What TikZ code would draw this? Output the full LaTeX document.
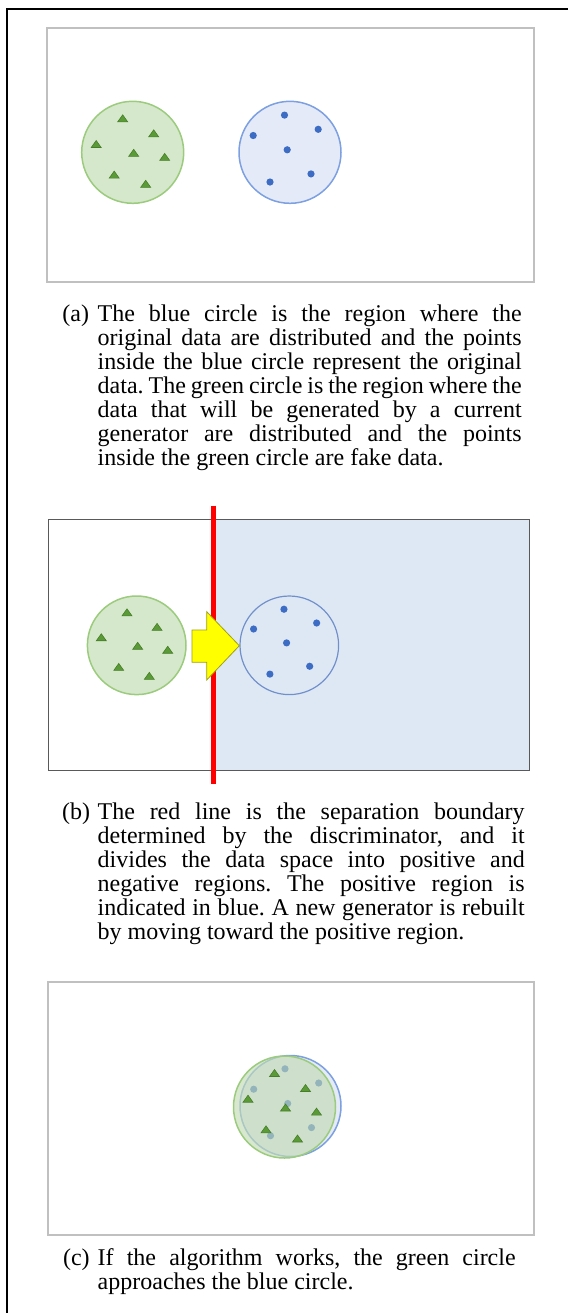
\documentclass[tikz,border=0pt]{standalone}
\usepackage{fontspec}
\setmainfont{Liberation Serif}
\usetikzlibrary{positioning}
\frenchspacing
\tolerance=10000

\definecolor{fakefill}{RGB}{214,232,203}
\definecolor{fakeline}{RGB}{155,203,125}
\definecolor{fakemark}{RGB}{90,155,55}
\definecolor{fakemarkline}{RGB}{70,125,40}
\definecolor{realfill}{RGB}{228,234,247}
\definecolor{realline}{RGB}{125,160,225}
\definecolor{realmark}{RGB}{60,108,196}
\definecolor{posfill}{RGB}{222,232,245}
\definecolor{boxgray}{RGB}{192,192,192}
\definecolor{pushfill}{RGB}{255,255,0}
\definecolor{pushline}{RGB}{160,160,20}

\def\fakepos{-10/-34, 21/-19, -36.5/-8.3, 1/0.5, 32/4.6, -18.5/22.3, 13/31.5}
\def\realpos{-5.5/-37.2, 28.2/-23, -36.8/-16.8, -2.8/-2.5, 21/21.6, -20/29.7}

\tikzset{
    panel/.style={draw=boxgray, line width=1pt},
    darkpanel/.style={draw=black!65, line width=0.6pt},
    gencircle/.style={circle, draw=fakeline, fill=fakefill, line width=0.75pt, minimum size=51pt, inner sep=0pt},
    realcircle/.style={circle, draw=realline, fill=realfill, line width=0.75pt, minimum size=51pt, inner sep=0pt},
    fakept/.pic={\filldraw[fill=fakemark, draw=fakemarkline, line width=0.3pt] (-5,3.5) -- (5,3.5) -- (0,-3.5) -- cycle;},
    realpt/.pic={\fill[realmark] (0,0) circle (3.6);},
    tag/.style={anchor=base west, inner sep=0pt, font=\fontsize{12pt}{12pt}\selectfont},
    caption/.style={anchor=base west, inner sep=0pt, text width=#1, align=justify, font=\fontsize{12pt}{12pt}\selectfont}
}

\begin{document}
\begin{tikzpicture}[x=0.5pt, y=-0.5pt]
    \useasboundingbox (0,0) rectangle (568,1313);
    \draw[line width=1pt] (7,1313) -- (7,9.3) -- (568,9.3);

    % (a)
    \draw[panel] (47,28) rectangle (534,282);
    \node[gencircle] (gen-a) at (132.7,152.3) {};
    \node[realcircle] (real-a) at (290,152.3) {};
    \begin{scope}[shift={(gen-a.center)}]
        \foreach \dx/\dy in \fakepos { \pic at (\dx,\dy) {fakept}; }
    \end{scope}
    \begin{scope}[shift={(real-a.center)}]
        \foreach \dx/\dy in \realpos { \pic at (\dx,\dy) {realpt}; }
    \end{scope}
    \node[tag] (tag-a) at (62,321) {(a)};
    \node[caption=212pt] (cap-a) at (97.3,321) {The blue circle is the region where the\linebreak
        original data are distributed and the points\linebreak
        inside the blue circle represent the original\linebreak
        data. The green circle is the region where the\linebreak
        data that will be generated by a current\linebreak
        generator are distributed and the points\linebreak
        inside the green circle are fake data.};

    % (b)
    \fill[posfill] (213,519.3) rectangle (529.7,770.7);
    \draw[darkpanel] (48.3,519.3) rectangle (529.7,770.7);
    \node[gencircle, minimum size=49.3pt] (gen-b) at (136.7,645.3) {};
    \node[realcircle, minimum size=49.3pt, fill=none, draw=realline!90!black, line width=0.6pt] (real-b) at (289.3,645.3) {};
    \begin{scope}[shift={(gen-b.center)}, scale=0.97]
        \foreach \dx/\dy in \fakepos { \pic at (\dx,\dy) {fakept}; }
    \end{scope}
    \begin{scope}[shift={(real-b.center)}, scale=0.97]
        \foreach \dx/\dy in \realpos { \pic at (\dx,\dy) {realpt}; }
    \end{scope}
    \coordinate (cut-top) at (213,505.7);
    \coordinate (cut-bot) at (213,784);
    \draw[red, line width=2.5pt] (cut-top) -- (cut-bot);
    \filldraw[fill=pushfill, draw=pushline, line width=0.4pt]
        (192,630) -- (206.7,630) -- (206.7,611.7) -- (239.3,645.7)
        -- (206.7,680) -- (206.7,662.3) -- (192,662.3) -- cycle;
    \node[tag] (tag-b) at (61.7,819) {(b)};
    \node[caption=213.5pt] (cap-b) at (97.3,819) {The red line is the separation boundary\linebreak
        determined by the discriminator, and it\linebreak
        divides the data space into positive and\linebreak
        negative regions. The positive region is\linebreak
        indicated in blue. A new generator is rebuilt\linebreak
        by moving toward the positive region.};

    % (c)
    \draw[panel] (48.3,982.3) rectangle (533.7,1235);
    \node[realcircle, minimum size=50.5pt] (real-c) at (290.5,1106) {};
    \begin{scope}[shift={(real-c.center)}]
        \foreach \dx/\dy in \realpos { \pic at (\dx,\dy) {realpt}; }
    \end{scope}
    \node[gencircle, fill=fakefill!85!fakemark, fill opacity=0.65] (gen-c) at (284.5,1107) {};
    \begin{scope}[shift={(gen-c.center)}]
        \foreach \dx/\dy in \fakepos { \pic at (\dx,\dy) {fakept}; }
    \end{scope}
    \node[tag] (tag-c) at (62.7,1265) {(c)};
    \node[caption=209pt] (cap-c) at (97.3,1265) {If the algorithm works, the green circle\linebreak
        approaches the blue circle.};
\end{tikzpicture}
\end{document}
